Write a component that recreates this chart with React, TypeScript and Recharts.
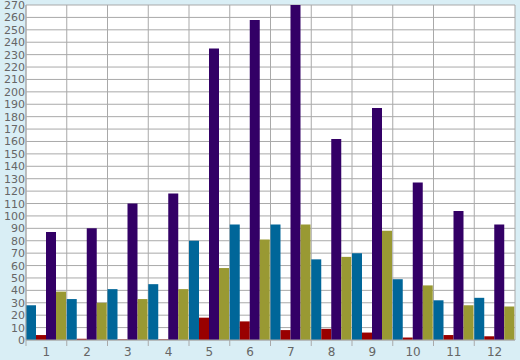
import React from 'react';
import { BarChart, Bar, XAxis, YAxis, CartesianGrid } from 'recharts';

const categories = ['1', '2', '3', '4', '5', '6', '7', '8', '9', '10', '11', '12'];
const blueValues = [28, 33, 41, 45, 80, 93, 93, 65, 70, 49, 32, 34];
const redValues = [4, 1, 0.5, 0.5, 18, 15, 8, 9, 6, 2, 4, 3];
const purpleValues = [87, 90, 110, 118, 235, 258, 270, 162, 187, 127, 104, 93];
const oliveValues = [39, 30, 33, 41, 58, 81, 93, 67, 88, 44, 28, 27];
const yTicks = Array.from({ length: 28 }, (_, i) => i * 10);

const data = categories.map((c, i) => ({
  name: c,
  blue: blueValues[i],
  red: redValues[i],
  purple: purpleValues[i],
  olive: oliveValues[i],
}));

const W = 520;
const H = 360;
const M = { top: 5, right: 5, left: 0, bottom: 0 };
const Y_W = 26;
const X_H = 20;
const PLOT_W = W - M.left - M.right - Y_W;
const BAND = PLOT_W / categories.length;
const AXIS_Y = H - M.bottom - X_H;
const GRID = '#a9a9a9';
const TEXT = '#666666';
const FONT = '"DejaVu Sans", Verdana, sans-serif';

const XTick: React.FC<any> = ({ x, payload }) => {
  const bx = x - BAND / 2;
  return (
    <g>
      <line x1={bx} y1={AXIS_Y} x2={bx} y2={AXIS_Y + 6} stroke={GRID} />
      <text x={x} y={AXIS_Y + 16} textAnchor="middle" fill={TEXT} fontSize={12} fontFamily={FONT}>
        {payload.value}
      </text>
    </g>
  );
};

// y labels sit tight against the plot, the way the reference packs them
const YTick: React.FC<any> = ({ y, payload }) => (
  <text x={M.left + Y_W - 1} y={y} dy={4} textAnchor="end" fill={TEXT} fontSize={11} fontFamily={FONT}>
    {payload.value}
  </text>
);

export default function App() {
  return (
    <div style={{ position: 'absolute', left: 0, top: 0, width: W, height: H, background: '#d9eef5' }}>
      <BarChart width={W} height={H} data={data} margin={M} barCategoryGap={0} barGap={0}>
        <CartesianGrid
          stroke={GRID}
          fill="#ffffff"
          verticalCoordinatesGenerator={({ offset }: any) =>
            categories.map((_, i) => offset.left + i * (offset.width / categories.length)).concat(offset.left + offset.width)
          }
        />
        <XAxis
          dataKey="name"
          height={X_H}
          interval={0}
          tickLine={false}
          axisLine={{ stroke: GRID }}
          tick={<XTick />}
        />
        <YAxis
          width={Y_W}
          domain={[0, 270]}
          ticks={yTicks}
          interval={0}
          tickLine={false}
          axisLine={{ stroke: GRID }}
          tick={<YTick />}
        />
        <Bar dataKey="blue" fill="#006699" isAnimationActive={false} />
        <Bar dataKey="red" fill="#990000" isAnimationActive={false} />
        <Bar dataKey="purple" fill="#330066" isAnimationActive={false} />
        <Bar dataKey="olive" fill="#999933" isAnimationActive={false} />
      </BarChart>
    </div>
  );
}
